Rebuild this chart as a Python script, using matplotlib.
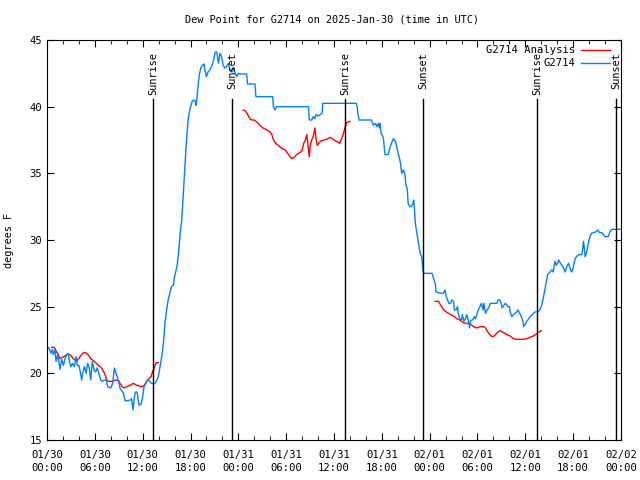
"Dew point plot for G2714, station obs vs analysis"
import numpy as np
import matplotlib
matplotlib.use('Agg')
import matplotlib.pyplot as plt
from matplotlib.ticker import MultipleLocator

plt.rcParams['font.family'] = ['DejaVu Sans Mono']
plt.rcParams['font.size'] = 7.4

# hours since 2025-01-30 00:00 UTC
obs_hours = [0.17, 0.38, 0.5, 0.67, 0.79, 1.0, 1.13, 1.34, 1.51, 1.63, 1.84, 2.05, 2.26, 2.47, 2.68, 2.8, 3.0, 3.2,
             3.43, 3.64, 3.8, 4.0, 4.18, 4.35, 4.5, 4.7, 4.9, 5.1, 5.3, 5.48, 5.69, 5.9, 6.1, 6.3, 6.5, 6.73, 6.94,
             7.2, 7.44, 7.6, 8.0, 8.24, 8.45, 8.6, 8.8, 8.95, 9.16, 9.37, 9.6, 9.79, 10.1, 10.46, 10.6, 10.8, 10.96,
             11.1, 11.3, 11.54, 11.8, 12.0, 12.17, 12.38, 12.6, 12.9, 13.1, 13.4, 13.6, 13.8, 13.97, 14.1, 14.3,
             14.47, 14.64, 14.8, 15.0, 15.2, 15.4, 15.6, 15.85, 16.0, 16.3, 16.5, 16.7, 16.9, 17.1, 17.3, 17.5,
             17.7, 17.9, 18.2, 18.4, 18.6, 18.7, 18.9, 19.1, 19.3, 19.5, 19.7, 19.8, 20.0, 20.2, 20.45, 20.7, 20.9,
             21.1, 21.3, 21.5, 21.7, 21.9, 22.1, 22.3, 22.5, 22.75, 22.95, 23.2, 23.4, 23.6, 23.8, 24.0, 24.2,
             25.05, 25.15, 26.1, 26.2, 28.3, 28.4, 28.6, 28.8, 29.0, 32.8, 32.9, 33.2, 33.4, 33.6, 33.75, 34.0,
             34.25, 34.5, 34.6, 38.8, 38.9, 39.0, 39.15, 40.7, 40.95, 41.2, 41.4, 41.55, 41.7, 41.8, 41.9, 42.1,
             42.2, 42.3, 42.4, 42.8, 43.0, 43.2, 43.45, 43.7, 43.9, 44.1, 44.3, 44.5, 44.7, 44.9, 45.0, 45.2, 45.3,
             45.5, 45.7, 45.9, 46.0, 46.1, 46.2, 46.4, 46.6, 46.8, 47.0, 47.1, 47.2, 47.3, 48.3, 48.5, 48.7, 48.8,
             49.1, 49.4, 49.7, 49.9, 50.1, 50.4, 50.6, 50.8, 51.0, 51.1, 51.3, 51.5, 51.6, 51.8, 52.0, 52.1, 52.3,
             52.5, 52.65, 52.8, 53.0, 53.1, 53.25, 53.4, 53.6, 53.75, 53.9, 54.1, 54.3, 54.5, 54.7, 54.8, 55.0,
             55.2, 55.4, 55.6, 55.8, 56.4, 56.6, 56.8, 56.95, 57.1, 57.3, 57.5, 57.8, 58.0, 58.1, 58.3, 58.5, 58.7,
             58.9, 59.1, 59.3, 59.5, 59.7, 59.8, 60.2, 60.6, 61.0, 61.2, 61.4, 61.6, 61.8, 62.0, 62.2, 62.4, 62.6,
             62.8, 63.1, 63.3, 63.5, 63.7, 63.9, 64.2, 64.4, 64.6, 64.8, 65.0, 65.2, 65.4, 65.6, 65.8, 66.0, 66.2,
             66.4, 66.7, 67.1, 67.3, 67.5, 67.7, 67.9, 68.1, 68.3, 68.8, 69.1, 69.3, 69.6, 69.8, 70.0, 70.4, 70.6,
             70.85, 71.8, 72.0]
obs_dewpt = [21.95, 21.7, 21.5, 21.8, 21.4, 21.8, 20.9, 21.4, 20.75, 20.3, 21.05, 20.6, 21.1, 21.4, 21.45, 20.9, 20.5,
             20.75, 20.5, 21.25, 20.6, 20.6, 20.1, 19.5, 20.1, 20.5, 20.0, 20.75, 20.4, 19.5, 20.9, 20.25, 20.1,
             20.4, 20.0, 19.5, 19.4, 19.5, 19.5, 19.0, 18.9, 19.25, 20.4, 20.1, 19.75, 19.5, 18.9, 18.7, 18.5,
             17.95, 17.95, 18.0, 18.1, 17.25, 18.25, 18.6, 18.6, 17.6, 17.7, 18.25, 19.0, 19.25, 19.5, 19.4, 19.25,
             19.2, 19.3, 19.5, 19.75, 20.25, 20.9, 21.6, 22.5, 23.75, 24.75, 25.5, 26.0, 26.5, 26.6, 27.25, 28.0,
             29.0, 30.5, 31.5, 33.5, 35.5, 37.5, 39.0, 39.75, 40.4, 40.5, 40.4, 40.1, 41.25, 42.4, 42.9, 43.1,
             43.2, 42.75, 42.25, 42.6, 42.75, 43.1, 43.5, 44.1, 44.1, 43.25, 44.0, 43.75, 43.1, 42.9, 43.0, 43.25,
             42.75, 42.6, 42.9, 42.5, 42.25, 42.5, 42.45, 42.45, 41.7, 41.7, 40.75, 40.75, 40.0, 39.75, 40.0, 40.0,
             40.0, 39.0, 39.0, 39.25, 39.1, 39.4, 39.3, 39.4, 39.5, 40.25, 40.25, 40.0, 39.5, 39.0, 39.0, 38.6,
             38.75, 38.5, 38.75, 38.4, 38.75, 38.0, 37.8, 37.6, 37.0, 36.4, 36.4, 36.9, 37.25, 37.6, 37.4, 36.9,
             36.4, 35.9, 35.0, 35.25, 34.9, 34.25, 33.75, 32.75, 32.5, 32.5, 32.75, 33.0, 32.25, 31.25, 30.5, 29.75,
             29.0, 28.75, 28.1, 27.6, 27.5, 27.5, 27.1, 26.75, 26.1, 26.05, 26.0, 26.0, 26.25, 25.75, 25.25, 25.25,
             25.5, 25.4, 24.75, 24.75, 25.0, 24.4, 24.1, 24.0, 24.4, 23.9, 24.1, 24.4, 24.1, 23.4, 23.9, 24.0, 24.0,
             24.25, 24.1, 24.4, 24.75, 25.0, 25.25, 24.75, 25.25, 24.5, 24.75, 24.9, 25.25, 25.25, 25.25, 25.5, 25.5,
             25.25, 24.9, 25.1, 25.25, 25.0, 25.0, 24.6, 24.25, 24.4, 24.5, 24.6, 24.75, 24.5, 24.25, 23.9, 23.5,
             23.9, 24.25, 24.5, 24.6, 24.6, 24.6, 24.75, 25.0, 25.5, 26.1, 26.75, 27.4, 27.6, 27.75, 27.6, 28.4,
             28.1, 28.5, 28.25, 28.1, 27.9, 27.6, 28.0, 28.25, 27.9, 27.6, 27.9, 28.5, 28.75, 28.9, 28.9, 29.9,
             28.75, 29.1, 29.75, 30.25, 30.5, 30.6, 30.75, 30.55, 30.55, 30.4, 30.25, 30.25, 30.6, 30.8, 30.8, 30.8]

# analysis, NaN marks the gaps between runs
ana_hours = [0.59, 0.92, 1.2, 1.42, 1.63, 1.92, 2.26, 2.6, 2.9, 3.3, 3.72, 4.14, 4.47, 4.77, 5.1, 5.5, 5.94, 6.44,
             6.78, 7.0, 7.28, 7.5, 7.7, 8.1, 8.74, 9.0, 9.37, 9.66, 10.0, 10.4, 10.83, 11.25, 11.8, 12.2, 12.5,
             12.8, 13.05, 13.2, 13.47, 13.7, 13.97, np.nan,
             24.6, 24.85, 25.1, 25.3, 25.5, 25.7, 26.0, 26.4, 26.7, 27.1, 27.6, 28.0, 28.2, 28.4, 28.7, 29.0, 29.4,
             29.9, 30.3, 30.7, 31.0, 31.3, 31.8, 32.0, 32.2, 32.4, 32.6, 32.75, 32.9, 33.0, 33.2, 33.4, 33.6, 33.75,
             33.9, 34.3, 34.7, 35.1, 35.5, 35.9, 36.3, 36.7, 36.9, 37.2, 37.4, 37.6, 38.0, np.nan,
             48.7, 49.1, 49.4, 49.7, 50.1, 50.6, 51.0, 51.4, 51.8, 52.2, 52.65, 53.1, 53.5, 53.9, 54.3, 54.8, 55.0,
             55.4, 55.8, 56.1, 56.4, 56.8, 57.3, 57.7, 58.1, 58.5, 58.9, 59.4, 59.8, 60.2, 60.6, 61.0, 61.4, 61.7,
             62.0]
ana_dewpt = [21.95, 21.95, 21.6, 21.4, 21.1, 21.2, 21.3, 21.45, 21.4, 21.1, 20.9, 21.25, 21.5, 21.57, 21.45, 21.1,
             20.9, 20.6, 20.45, 20.25, 19.9, 19.5, 19.4, 19.4, 19.5, 19.4, 19.05, 18.9, 19.0, 19.1, 19.25, 19.1,
             19.0, 19.1, 19.4, 19.6, 19.75, 20.05, 20.45, 20.8, 20.8, np.nan,
             39.75, 39.7, 39.5, 39.25, 39.05, 39.0, 39.0, 38.8, 38.6, 38.4, 38.25, 38.1, 37.9, 37.5, 37.25, 37.1,
             36.9, 36.75, 36.4, 36.1, 36.2, 36.4, 36.6, 36.7, 37.25, 37.5, 37.9, 37.0, 36.25, 37.0, 37.5, 37.75,
             38.4, 37.6, 37.1, 37.4, 37.5, 37.55, 37.7, 37.55, 37.4, 37.25, 37.5, 38.0, 38.5, 38.8, 38.9, np.nan,
             25.4, 25.4, 25.1, 24.8, 24.6, 24.4, 24.3, 24.1, 24.0, 23.8, 23.75, 23.7, 23.5, 23.4, 23.5, 23.5, 23.4,
             23.0, 22.75, 22.8, 23.0, 23.2, 23.05, 22.9, 22.8, 22.6, 22.55, 22.55, 22.55, 22.6, 22.7, 22.8, 22.95,
             23.1, 23.2]

sun_hours = [13.34, 23.25, 37.39, 47.21, 61.44, 71.35]
sun_names = ['Sunrise', 'Sunset', 'Sunrise', 'Sunset', 'Sunrise', 'Sunset']

tick_hours = [0, 6, 12, 18, 24, 30, 36, 42, 48, 54, 60, 66, 72]
tick_labels = ['01/30\n00:00', '01/30\n06:00', '01/30\n12:00', '01/30\n18:00',
               '01/31\n00:00', '01/31\n06:00', '01/31\n12:00', '01/31\n18:00',
               '02/01\n00:00', '02/01\n06:00', '02/01\n12:00', '02/01\n18:00',
               '02/02\n00:00']

fig = plt.figure(figsize=(6.4, 4.8), dpi=100)
ax = fig.add_axes([47/640, 40/480, 574/640, 400/480])

red = '#ff0000'
blue = '#0080ff'
ax.plot(ana_hours, ana_dewpt, color=red, lw=1)
ax.plot(obs_hours, obs_dewpt, color=blue, lw=1)

for h, name in zip(sun_hours, sun_names):
    ax.axvline(h, ymin=0, ymax=0.8525, color='black', lw=1)
    ax.text(h, 44.1, name, rotation=90, ha='center', va='top')

ax.set_xlim(0, 72)
ax.set_ylim(15, 45)
ax.set_xticks(tick_hours)
ax.set_xticklabels(tick_labels, linespacing=1.35)
ax.xaxis.set_minor_locator(MultipleLocator(2))
ax.yaxis.set_major_locator(MultipleLocator(5))
ax.tick_params(which='both', direction='in', top=True, right=True, labelsize=7.6)
ax.tick_params(which='major', length=5)
ax.tick_params(which='minor', length=3)
ax.tick_params(axis='x', pad=7)

ax.set_ylabel('degrees F', labelpad=11)
fig.text(332/640, 1 - 20/480, 'Dew Point for G2714 on 2025-Jan-30 (time in UTC)',
         ha='center', va='center')

# gnuplot-style key: right-aligned labels, line sample after
key = [('G2714 Analysis', red), ('G2714', blue)]
for i, (lab, col) in enumerate(key):
    yk = (440 - 50 - 13 * i) / 400
    ax.text((575 - 47) / 574, yk, lab, transform=ax.transAxes, ha='right', va='center', fontsize=7.6)
    ax.plot([(581 - 47) / 574, (610 - 47) / 574], [yk, yk], transform=ax.transAxes, color=col, lw=1)

plt.savefig('out.png')
